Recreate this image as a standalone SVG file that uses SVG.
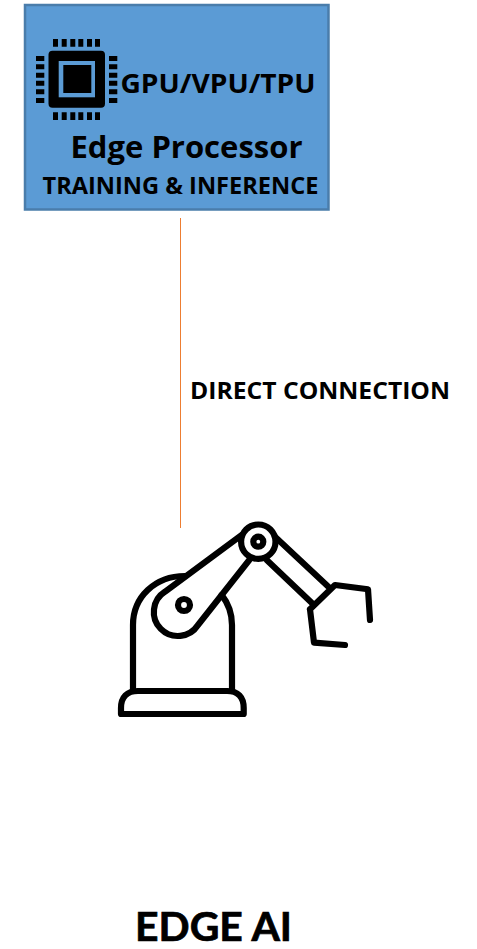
<svg xmlns="http://www.w3.org/2000/svg" width="477" height="949" viewBox="0 0 477 949">
<style>
text{font-family:"Open Sans","Liberation Sans",sans-serif;font-weight:700;fill:#000}
.r{fill:none;stroke:#000;stroke-width:6.200;stroke-linecap:round;stroke-linejoin:round}
.b{fill:#000}
</style>
<rect width="477" height="949" fill="#fff"/>
<g id="connectors"><line x1="180.500" y1="218" x2="180.500" y2="528" stroke="#ED7D31" stroke-width="1"/></g>
<g id="edge-processor">
<rect x="25" y="5" width="303.500" height="204.500" fill="#5B9BD5" stroke="#4A7DAB" stroke-width="2.500"/>
<g class="b">
<rect x="48.500" y="50.700" width="56.500" height="57" rx="4"/>
<path d="M53 39h5v7.700h-5zM61.700 39h5v7.700h-5zM70.300 39h5v7.700h-5zM78.300 39h5v7.700h-5zM87 39h5v7.700h-5zM95 39h5v7.700h-5zM53 112.300h5v7.700h-5zM61.700 112.300h5v7.700h-5zM70.300 112.300h5v7.700h-5zM78.300 112.300h5v7.700h-5zM87 112.300h5v7.700h-5zM95 112.300h5v7.700h-5zM36 56h8.300v5h-8.300zM36 64.300h8.300v5h-8.300zM36 72.700h8.300v5h-8.300zM36 80.700h8.300v5h-8.300zM36 89.300h8.300v5h-8.300zM36 98h8.300v5h-8.300zM109 56h8.300v5h-8.300zM109 64.300h8.300v5h-8.300zM109 72.700h8.300v5h-8.300zM109 80.700h8.300v5h-8.300zM109 89.300h8.300v5h-8.300zM109 98h8.300v5h-8.300z"/>
</g>
<rect x="58.700" y="61" width="36.300" height="36.300" fill="#5B9BD5"/>
<rect x="63.300" y="65" width="28" height="28" fill="#000"/>
<text x="120.500" y="92.500" font-size="27" textLength="195" lengthAdjust="spacingAndGlyphs">GPU/VPU/TPU</text>
<text x="70.500" y="157.500" font-size="31" textLength="232" lengthAdjust="spacingAndGlyphs">Edge Processor</text>
<text x="42.500" y="193.500" font-size="23.500" textLength="276" lengthAdjust="spacingAndGlyphs">TRAINING &amp; INFERENCE</text>
</g>
<g id="direct-connection-label"><text x="190" y="398.700" font-size="24" textLength="260" lengthAdjust="spacingAndGlyphs">DIRECT CONNECTION</text></g>
<g id="robot-arm">
<path class="r" stroke-linejoin="miter" stroke-linecap="butt" d="M121 714V708C121 697 127 691 138 691H227C238 691 243.700 697 243.700 708V714Z"/>
<path class="r" d="M133 691V625C133 597 155 576 185 576"/>
<path class="r" d="M232 691V625C232 613 228 603 221.700 595"/>
<path class="r" d="M165 591.700L241.700 535M198 625L249.300 560M165 591.700A24 24 0 1 0 198 625"/>
<circle class="r" cx="258.300" cy="541.700" r="17.200"/>
<circle class="r" cx="258.300" cy="541.700" r="5" stroke-width="4.500"/>
<circle class="r" cx="184" cy="605" r="6"/>
<path class="r" d="M275 536.700L330 588.300M266.700 560L314 605M310 609.300L335 585L368 589.300L370 620M310 609.300L314 642.700L345 645"/>
</g>
<g id="edge-ai-title"><text x="135" y="940.500" font-size="40" textLength="157" lengthAdjust="spacingAndGlyphs" style="font-family:Lato,'Liberation Sans',sans-serif" stroke="#000" stroke-width=".7">EDGE AI</text></g>
</svg>
